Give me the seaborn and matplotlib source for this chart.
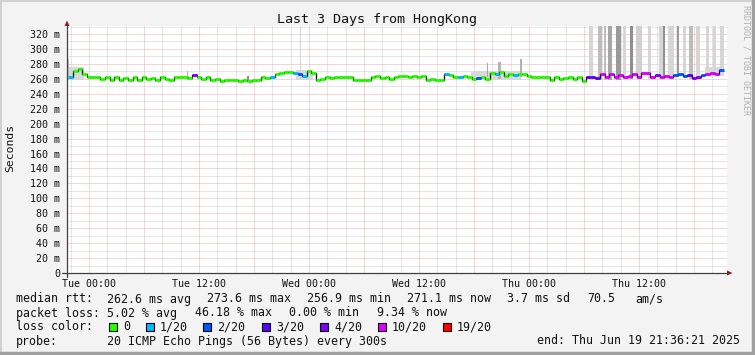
import numpy as np
import pandas as pd
import matplotlib
matplotlib.use("Agg")
import matplotlib.pyplot as plt
import seaborn as sns
from matplotlib.ticker import MultipleLocator, FuncFormatter
from matplotlib.patches import Rectangle, Polygon
from matplotlib.lines import Line2D

# ---------------- data ----------------
# time of each 30-minute step, in hours from Tue 00:00
step_hours = np.arange(-2.0, 69.01, 0.5)

median_ms = [
    263, 271, 273, 267, 263, 262, 263, 260, 262, 259, 262, 258,
    261, 259, 262, 258, 262, 260, 261, 259, 262, 260, 258, 262,
    263, 262, 261, 265, 263, 260, 262, 258, 260, 257, 258, 258,
    259, 257, 258, 257, 258, 259, 262, 261, 262, 266, 268, 269,
    269, 268, 266, 264, 270, 268, 259, 260, 263, 261, 263, 262,
    263, 262, 258, 258, 258, 258, 262, 264, 261, 263, 260, 263,
    264, 264, 263, 264, 263, 264, 259, 260, 258, 258, 266, 265,
    263, 262, 264, 262, 260, 261, 262, 260, 268, 266, 269, 264,
    266, 265, 267, 266, 264, 262, 263, 262, 263, 259, 262, 260,
    261, 262, 260, 262, 257, 262, 263, 261, 266, 262, 267, 263,
    265, 263, 264, 266, 262, 268, 268, 263, 265, 262, 264, 263,
    265, 266, 264, 265, 261, 262, 265, 267, 268, 267, 272,
]

lost_pings = [
    1, 0, 0, 0, 0, 0, 0, 0, 0, 0, 0, 0,
    0, 0, 0, 0, 0, 0, 0, 0, 0, 0, 0, 0,
    0, 0, 0, 4, 0, 0, 0, 0, 0, 0, 0, 0,
    0, 0, 0, 0, 0, 0, 0, 0, 1, 0, 0, 0,
    0, 1, 2, 1, 0, 0, 0, 0, 0, 0, 0, 0,
    0, 0, 0, 0, 0, 0, 0, 0, 0, 0, 0, 0,
    0, 0, 0, 0, 0, 0, 0, 0, 0, 0, 1, 0,
    0, 1, 0, 0, 0, 2, 0, 0, 0, 1, 0, 0,
    0, 1, 0, 0, 0, 0, 0, 0, 0, 0, 0, 0,
    0, 0, 0, 0, 0, 3, 3, 3, 10, 10, 10, 10,
    10, 10, 10, 10, 10, 10, 10, 10, 4, 10, 10, 10,
    2, 2, 2, 3, 4, 4, 2, 10, 10, 10, 2,
]

# smoke (ping spread) spikes: centre hour, width hours, low ms, high ms, grey
spike_hour = [-2.25, 10.75, 17.35, 23.05, 43.5, 44.73, 47.13,
              54.76, 55.74, 56.24, 56.84, 57.76, 58.42, 59.18, 60.05, 61.14,
              62.40, 62.73, 63.49, 64.26, 64.96, 65.67, 66.43, 67.47, 68.24, 69.05]
spike_width = [0.2, 0.16, 0.16, 0.16, 0.16, 0.33, 0.27,
               0.45, 0.45, 0.22, 0.45, 0.55, 0.33, 0.33, 0.65, 0.33,
               0.45, 0.16, 0.65, 0.22, 0.33, 0.45, 0.45, 0.33, 0.33, 0.45]
spike_low = [258, 258, 256, 258, 262, 260, 262,
             258, 258, 258, 258, 258, 260, 260, 260, 260,
             260, 260, 260, 262, 262, 260, 262, 264, 264, 266]
spike_high = [286, 270, 264, 400, 281, 283, 287,
              400, 400, 400, 400, 400, 400, 400, 400, 400,
              400, 400, 400, 400, 400, 400, 400, 400, 400, 400]
spike_grey = ['#c4c4c4', '#b0b0b0', '#909090', '#d4d4d4', '#a8a8a8', '#b4b4b4', '#b0b0b0',
              '#d6d6d6', '#bdbdbd', '#bdbdbd', '#a6a6a6', '#9a9a9a', '#d6d6d6', '#8f8f8f', '#d0d0d0', '#d6d6d6',
              '#d6d6d6', '#8f8f8f', '#d6d6d6', '#9a9a9a', '#d6d6d6', '#bdbdbd', '#d6d6d6', '#d6d6d6', '#d6d6d6', '#d6d6d6']

# smoke bands around the median: start hour, end hour, low ms, high ms
band_start = [-2.25, 22.6, 41.7, 67.2]
band_end = [-0.6, 24.4, 47.1, 69.25]
band_low = [259, 258, 259, 264]
band_high = [276, 272, 271, 276]

loss_levels = [0, 1, 2, 3, 4, 10, 19]
loss_colors = ['#26ff00', '#00b8ff', '#0059ff', '#5e00ff', '#7e00ff', '#dd00ff', '#ff0000']
loss_labels = ['0', '1/20', '2/20', '3/20', '4/20', '10/20', '19/20']

x_label_hours = [0, 12, 24, 36, 48, 60]
x_labels = ['Tue 00:00', 'Tue 12:00', 'Wed 00:00', 'Wed 12:00', 'Thu 00:00', 'Thu 12:00']

title = 'Last 3 Days from HongKong'
rtt_row = [('median rtt:', 16), ('262.6 ms avg', 107), ('273.6 ms max', 207),
           ('256.9 ms min', 307), ('271.1 ms now', 407), ('3.7 ms sd', 507),
           ('70.5', 587), ('am/s', 635)]
loss_row = [('packet loss:', 16), ('5.02 % avg', 107), ('46.18 % max', 195),
            ('0.00 % min', 289), ('9.34 % now', 377)]
probe_row = [('probe:', 16), ('20 ICMP Echo Pings (56 Bytes) every 300s', 107),
             ('end: Thu Jun 19 21:36:21 2025', 537)]

# ---------------- style ----------------
W, H = 755, 355
sns.set_theme(style='white')
plt.rcParams['font.family'] = ['DejaVu Sans Mono']
plt.rcParams['lines.scale_dashes'] = True

fig = plt.figure(figsize=(W / 100, H / 100), dpi=100)
fig.patch.set_facecolor('#f3f3f3')

def P(x, y):
    return (x / W, 1 - y / H)

x_left, x_right = 67, 727
y_bot, y_top = 273, 25.8
ax = fig.add_axes([x_left / W, 1 - y_bot / H, (x_right - x_left) / W, (y_bot - y_top) / H])
ax.set_facecolor('white')
for s in ax.spines.values():
    s.set_visible(False)

xmin_h, xmax_h = -2.4, 69.6
ax.set_xlim(xmin_h, xmax_h)
ax.set_ylim(0, 331)

# grid
ax.xaxis.set_major_locator(MultipleLocator(6))
ax.xaxis.set_minor_locator(MultipleLocator(2))
ax.yaxis.set_major_locator(MultipleLocator(20))
ax.yaxis.set_minor_locator(MultipleLocator(10))
ax.grid(which='minor', color='#cdcdcd', linestyle=(0, (1, 1)), linewidth=0.72)
ax.grid(which='major', color='#eaacac', linestyle=(0, (1, 1)), linewidth=0.72)
ax.set_axisbelow(True)

ax.xaxis.set_major_formatter(FuncFormatter(
    lambda v, p: x_labels[x_label_hours.index(int(round(v)))] if int(round(v)) in x_label_hours else ''))
ax.yaxis.set_major_formatter(FuncFormatter(lambda v, p: '0' if v == 0 else f'{int(v)} m'))
ax.tick_params(axis='both', which='major', direction='out', length=2.2, width=0.72,
               color='#404040', labelsize=7.2, labelcolor='#111111')
ax.tick_params(axis='x', pad=2.0)
ax.tick_params(axis='y', pad=2.8)
ax.tick_params(which='minor', length=0)

# smoke bands
for s0, s1, lo, hi in zip(band_start, band_end, band_low, band_high):
    ax.fill_between([s0, s1], [lo, lo], [hi, hi], color='#d8d8d8', lw=0, zorder=2)

# spikes
ax.bar(spike_hour, np.array(spike_high) - np.array(spike_low), bottom=spike_low,
       width=spike_width, color=spike_grey, linewidth=0, zorder=2)

# median line
df = pd.DataFrame({'hour': step_hours, 'rtt': median_ms, 'loss': lost_pings})
sns.lineplot(data=df, x='hour', y='rtt', ax=ax, color='black', lw=0.9,
             drawstyle='steps-mid', zorder=3, legend=False)
cmap = dict(zip(loss_levels, loss_colors))
ax.hlines(df['rtt'], df['hour'] - 0.25, df['hour'] + 0.25,
          colors=[cmap[l] for l in df['loss']], lw=2.1, zorder=4)
ax.set_xlabel('')
ax.set_ylabel('')

# axis lines and arrows
axis_col = '#404040'
arrow_col = '#8b1a1a'
fig.add_artist(Line2D([P(67, 277)[0], P(67, 26)[0]], [P(67, 277)[1], P(67, 26)[1]],
                      color=axis_col, lw=0.9))
fig.add_artist(Line2D([P(62, 273)[0], P(728, 273)[0]], [P(62, 273)[1], P(728, 273)[1]],
                      color=axis_col, lw=0.9))
fig.add_artist(Polygon([P(64.5, 26), P(69.5, 26), P(67, 20.5)], closed=True,
                       color=arrow_col, lw=0))
fig.add_artist(Polygon([P(727, 270.5), P(727, 275.5), P(732.5, 273)], closed=True,
                       color=arrow_col, lw=0))

# titles
fig.text(*P(377, 19), title, ha='center', va='center', fontsize=9.6, color='#111111')
fig.text(*P(10, 148), 'Seconds', ha='center', va='center', rotation=90,
         fontsize=8.2, color='#111111')
fig.text(*P(746, 5), 'RRDTOOL / TOBI OETIKER', ha='center', va='top', rotation=270,
         fontsize=6.0, color='#b0b0b0')

# legend rows
fs = 8.4
for txt, x in rtt_row:
    fig.text(*P(x, 299), txt, ha='left', va='center', fontsize=fs, color='#111111')
for txt, x in loss_row:
    fig.text(*P(x, 313), txt, ha='left', va='center', fontsize=fs, color='#111111')
for txt, x in probe_row:
    fig.text(*P(x, 341), txt, ha='left', va='center', fontsize=fs, color='#111111')
fig.text(*P(16, 327), 'loss color:', ha='left', va='center', fontsize=fs, color='#111111')
sq_x = [109, 146, 203, 262, 320, 378, 443]
for sx, col, lab in zip(sq_x, loss_colors, loss_labels):
    x0, y0 = P(sx, 331)
    fig.add_artist(Rectangle((x0, y0), 7.5 / W, 8 / H, facecolor=col,
                             edgecolor='black', lw=0.8))
    fig.text(*P(sx + 14, 327), lab, ha='left', va='center', fontsize=fs, color='#111111')

# frame
fig.add_artist(Line2D([0, 1], [1 - 1 / H, 1 - 1 / H], color='#d0d0d0', lw=1.5))
fig.add_artist(Line2D([1 / W, 1 / W], [0, 1], color='#d0d0d0', lw=1.5))
fig.add_artist(Line2D([0, 1], [2 / H, 2 / H], color='#a0a0a0', lw=2.5))
fig.add_artist(Line2D([1 - 2 / W, 1 - 2 / W], [0, 1], color='#a0a0a0', lw=2.5))

fig.savefig('out.png', dpi=100, facecolor=fig.get_facecolor())
